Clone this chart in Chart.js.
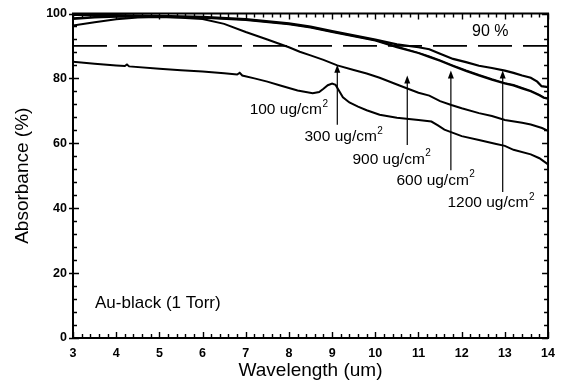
<!DOCTYPE html>
<html>
<head>
<meta charset="utf-8">
<script src="https://cdn.jsdelivr.net/npm/chart.js@4.4.0/dist/chart.umd.min.js"></script>
<style>
  html, body { margin: 0; padding: 0; background: #fff; }
  #wrap { width: 563px; height: 389px; }
</style>
</head>
<body>
<div id="wrap"><canvas id="chart"></canvas></div>
<script>
// absorbance curves (wavelength in um, absorbance in %)
const x1200 = [3, 3.5, 4, 5, 6, 7, 8, 8.5, 9, 9.5, 10, 10.5, 11, 11.25, 11.5, 11.8, 12.1, 12.4, 12.7, 13, 13.2, 13.4, 13.6, 13.75, 13.85, 14];
const y1200 = [99.6, 99.6, 99.5, 99.3, 99.0, 98.3, 97.0, 96.0, 94.6, 93.3, 92.0, 90.5, 89.6, 89.0, 87.6, 86.0, 85.0, 83.9, 83.2, 82.4, 81.7, 80.9, 80.2, 79.0, 77.6, 77.3];

const x600 = [3, 3.5, 4, 5, 6, 7, 8, 8.5, 9, 9.5, 10, 10.5, 11, 11.25, 11.5, 11.8, 12.1, 12.4, 12.7, 13, 13.2, 13.4, 13.6, 13.8, 13.9, 14];
const y600 = [98.3, 98.8, 99.0, 99.0, 98.7, 98.0, 96.7, 95.7, 94.3, 93.0, 91.7, 89.6, 87.8, 86.6, 85.4, 83.8, 82.3, 80.9, 79.6, 78.4, 77.8, 76.9, 76.0, 74.8, 74.0, 73.7];

const x900 = [3, 3.5, 4, 5, 6, 7, 8, 8.5, 9, 9.5, 10, 10.5, 11, 11.25, 11.5, 11.8, 12.1, 12.4, 12.7, 13, 13.2, 13.4, 13.6, 13.8, 13.9, 14];
const y900 = [98.6, 99.0, 99.2, 99.1, 98.8, 98.1, 96.8, 95.8, 94.4, 93.1, 91.8, 89.8, 87.9, 86.8, 85.6, 84.0, 82.5, 81.1, 79.8, 78.6, 78.0, 77.1, 76.2, 75.0, 74.2, 73.9];

const x300 = [3, 3.5, 4, 4.5, 5, 5.5, 6, 6.5, 7, 7.5, 8, 8.25, 8.5, 8.8, 9.12, 9.5, 9.8, 10.1, 10.56, 11, 11.25, 11.5, 11.76, 12, 12.4, 12.7, 13, 13.4, 13.6, 13.86, 14];
const y300 = [96.3, 97.3, 98.2, 98.8, 98.9, 98.7, 98.3, 96.8, 94.3, 92.0, 89.6, 88.2, 87.1, 85.7, 84.0, 82.6, 81.5, 80.2, 77.8, 75.6, 74.7, 73.0, 71.8, 70.8, 69.3, 68.4, 67.2, 66.3, 65.8, 64.7, 63.8];

const x100 = [3, 3.5, 4, 4.2, 4.25, 4.3, 5, 5.5, 6, 6.5, 6.8, 6.86, 6.92, 7.2, 7.5, 7.8, 8.2, 8.55, 8.7, 8.8, 8.9, 9.0, 9.08, 9.15, 9.25, 9.4, 9.6, 9.8, 10.1, 10.5, 11.0, 11.3, 11.45, 11.6, 11.8, 12, 12.4, 12.8, 13, 13.2, 13.6, 13.8, 14];
const y100 = [85.1, 84.5, 84.0, 83.8, 84.3, 83.7, 83.0, 82.5, 82.1, 81.6, 81.2, 81.7, 80.9, 80.0, 79.0, 77.8, 76.3, 75.4, 75.8, 76.8, 77.9, 78.4, 78.0, 76.4, 74.2, 72.6, 71.3, 70.2, 68.8, 67.9, 67.2, 66.7, 65.5, 64.2, 63.2, 62.2, 61.0, 59.8, 59.2, 58.0, 56.6, 55.4, 53.5];

const refX = [3, 14];
const refY = [90, 90];

// annotations
const labelText = ['100 ug/cm', '300 ug/cm', '900 ug/cm', '600 ug/cm', '1200 ug/cm'];
const labelX = [7.09, 8.36, 9.47, 10.49, 11.67];
const labelY = [70.2, 62.0, 55.0, 48.6, 41.6];

const arrowX = [9.12, 10.74, 11.75, 12.95];
const arrowFrom = [65.7, 59.5, 51.7, 45.0];
const arrowTo = [84.2, 80.9, 82.4, 82.4];

const FONT = "'Liberation Sans', Arial, sans-serif";

function pts(xs, ys) {
    return xs.map((v, i) => ({ x: v, y: ys[i] }));
}

function curve(label, xs, ys, width) {
    return {
        label: label,
        data: pts(xs, ys),
        borderColor: '#000',
        borderWidth: width,
        pointRadius: 0,
        tension: 0,
        fill: false
    };
}

function isWhole(v) {
    return Math.abs(v - Math.round(v)) < 1e-6;
}

const overlay = {
    id: 'overlay',
    afterDraw(chart) {
        const ctx = chart.ctx;
        const a = chart.chartArea;
        const xs = chart.scales.x;
        const ys = chart.scales.y;
        ctx.save();
        ctx.strokeStyle = '#000';
        ctx.fillStyle = '#000';
        ctx.setLineDash([]);

        // inward ticks on all four sides
        ctx.lineWidth = 1.4;
        ctx.beginPath();
        xs.ticks.forEach(t => {
            const px = Math.round(xs.getPixelForValue(t.value)) + 0.5;
            const len = isWhole(t.value) ? 6 : 4;
            ctx.moveTo(px, a.bottom);
            ctx.lineTo(px, a.bottom - len);
            ctx.moveTo(px, a.top);
            ctx.lineTo(px, a.top + len);
        });
        ys.ticks.forEach(t => {
            const py = Math.round(ys.getPixelForValue(t.value)) + 0.5;
            const major = Math.round(t.value) % 20 === 0;
            const len = major ? 6 : 4;
            ctx.moveTo(major ? a.left - 4 : a.left, py);
            ctx.lineTo(a.left + len, py);
            ctx.moveTo(a.right, py);
            ctx.lineTo(a.right - len, py);
        });
        ctx.stroke();

        // frame
        ctx.lineWidth = 2;
        ctx.strokeRect(a.left, a.top, a.right - a.left, a.bottom - a.top);

        // arrows
        ctx.lineWidth = 1.2;
        arrowX.forEach((v, i) => {
            const px = xs.getPixelForValue(v);
            const p0 = ys.getPixelForValue(arrowFrom[i]);
            const p1 = ys.getPixelForValue(arrowTo[i]);
            ctx.beginPath();
            ctx.moveTo(px, p0);
            ctx.lineTo(px, p1 + 5);
            ctx.stroke();
            ctx.beginPath();
            ctx.moveTo(px, p1);
            ctx.lineTo(px - 3, p1 + 8);
            ctx.lineTo(px + 3, p1 + 8);
            ctx.closePath();
            ctx.fill();
        });

        // text labels
        ctx.textBaseline = 'middle';
        ctx.textAlign = 'left';
        labelText.forEach((txt, i) => {
            const px = xs.getPixelForValue(labelX[i]);
            const py = ys.getPixelForValue(labelY[i]);
            ctx.font = '15.5px ' + FONT;
            ctx.fillText(txt, px, py);
            const w = ctx.measureText(txt).width;
            ctx.font = '10px ' + FONT;
            ctx.fillText('2', px + w + 0.5, py - 6);
        });

        ctx.font = '16px ' + FONT;
        ctx.fillText('90 %', xs.getPixelForValue(12.24), ys.getPixelForValue(94.5));

        ctx.font = '17px ' + FONT;
        ctx.fillText('Au-black (1 Torr)', xs.getPixelForValue(3.51), ys.getPixelForValue(10.6));

        ctx.restore();
    }
};

new Chart(document.getElementById('chart'), {
    type: 'line',
    data: {
        datasets: [
            curve('1200 ug/cm2', x1200, y1200, 2.2),
            curve('900 ug/cm2', x900, y900, 1.6),
            curve('600 ug/cm2', x600, y600, 2),
            curve('300 ug/cm2', x300, y300, 2),
            curve('100 ug/cm2', x100, y100, 2),
            {
                label: '90 %',
                data: pts(refX, refY),
                borderColor: '#000',
                borderWidth: 1.8,
                borderDash: [34, 11],
                pointRadius: 0,
                fill: false
            }
        ]
    },
    options: {
        responsive: true,
        maintainAspectRatio: false,
        animation: false,
        devicePixelRatio: 1,
        layout: {
            padding: { top: 9, right: 14, left: 0, bottom: 0 }
        },
        plugins: {
            legend: { display: false },
            tooltip: { enabled: false }
        },
        scales: {
            x: {
                type: 'linear',
                min: 3,
                max: 14,
                grid: { display: false, drawTicks: false },
                border: { display: false },
                afterFit: s => { s.height = 51; },
                ticks: {
                    stepSize: 0.2,
                    autoSkip: false,
                    maxRotation: 0,
                    padding: 8,
                    color: '#000',
                    font: { family: FONT, size: 12.5, weight: 'bold' },
                    callback: v => isWhole(v) ? Math.round(v) : ''
                },
                title: {
                    display: true,
                    text: 'Wavelength (um)',
                    color: '#000',
                    font: { family: FONT, size: 19 },
                    padding: { top: 0, bottom: 7 }
                }
            },
            y: {
                min: 0,
                max: 100,
                grid: { display: false, drawTicks: false },
                border: { display: false },
                afterFit: s => { s.width = 73; },
                ticks: {
                    stepSize: 4,
                    autoSkip: false,
                    padding: 6,
                    color: '#000',
                    font: { family: FONT, size: 12.5, weight: 'bold' },
                    callback: v => Math.round(v) % 20 === 0 ? Math.round(v) : ''
                },
                title: {
                    display: true,
                    text: 'Absorbance (%)',
                    color: '#000',
                    font: { family: FONT, size: 19 },
                    padding: { top: 11, bottom: 0 }
                }
            }
        }
    },
    plugins: [overlay]
});
</script>
</body>
</html>
